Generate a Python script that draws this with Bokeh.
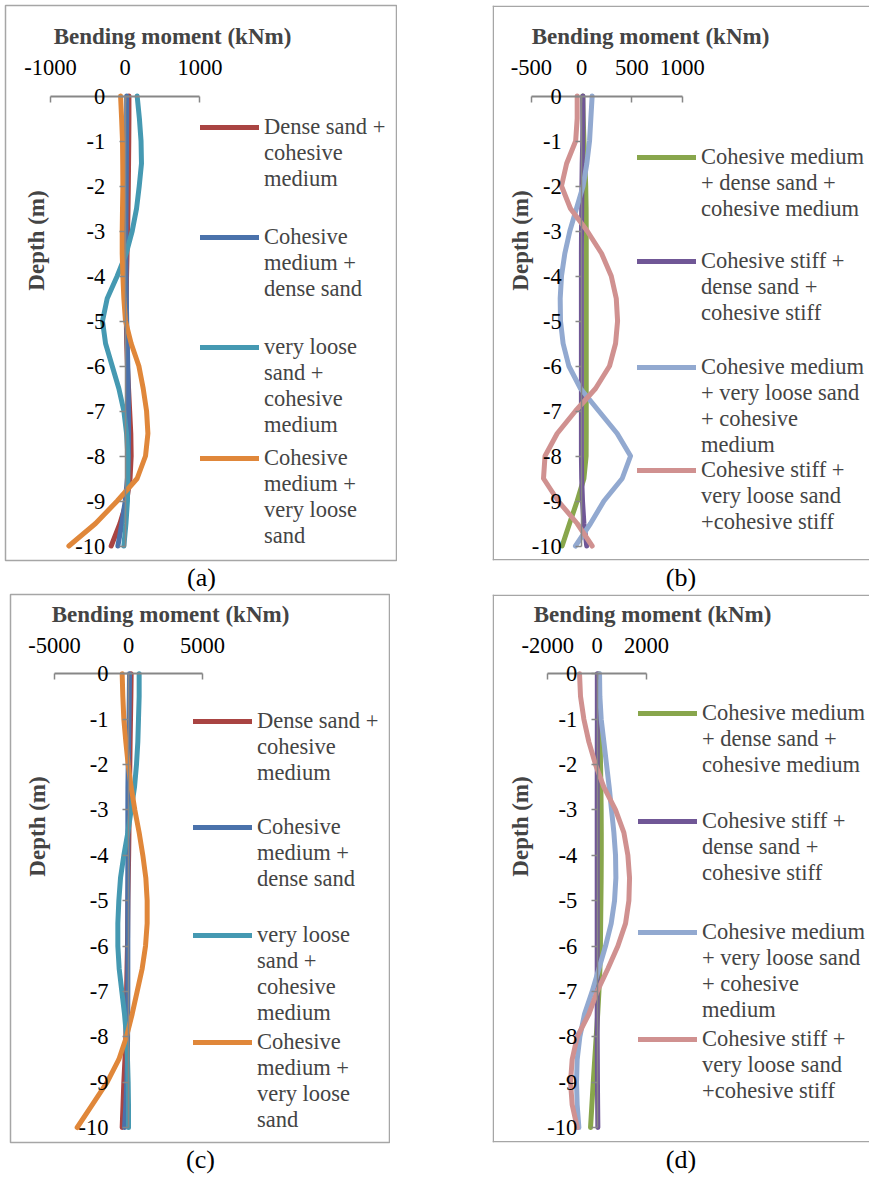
from bokeh.plotting import figure
from bokeh.models import Range1d, LinearAxis, FixedTicker, Label, Legend, LegendItem, Title, Span
from bokeh.layouts import column, row
from bokeh.embed import file_html
from bokeh.resources import INLINE

# ---------------- data ----------------
depth = [0, -0.5, -1, -1.5, -2, -2.5, -3, -3.5, -4, -4.5, -5,
         -5.5, -6, -6.5, -7, -7.5, -8, -8.5, -9, -9.5, -10]

y_ticks = [0, -1, -2, -3, -4, -5, -6, -7, -8, -9, -10]
y_tick_labels = ["0", "-1", "-2", "-3", "-4", "-5", "-6", "-7", "-8", "-9", "-10"]

# panel (a)
a_names = [["Dense sand +", "cohesive", "medium"],
           ["Cohesive", "medium +", "dense sand"],
           ["very loose", "sand +", "cohesive", "medium"],
           ["Cohesive", "medium +", "very loose", "sand"]]
a_dense_coh = [50, 50, 48, 45, 42, 38, 32, 25, 18, 15, 15, 20, 30, 45, 60, 75, 80, 65, 20, -70, -188]
a_coh_dense = [20, 20, 18, 16, 14, 12, 10, 10, 12, 15, 20, 28, 35, 40, 44, 45, 42, 30, 0, -45, -98]
a_loose_coh = [160, 190, 212, 218, 188, 152, 94, 13, -107, -241, -304, -263, -174, -85, -18, 18, 36, 36, 30, 10, -18]
a_coh_loose = [-62, -48, -36, -33, -31, -36, -40, -40, -31, -18, 4, 80, 183, 241, 286, 304, 272, 160, -107, -397, -754]
a_xticks = [-1000, 0, 1000]
a_xtick_labels = ["-1000", "0", "1000"]

# panel (b)
b_names = [["Cohesive medium", "+ dense sand +", "cohesive medium"],
           ["Cohesive stiff +", "dense sand +", "cohesive stiff"],
           ["Cohesive medium", "+ very loose sand", "+ cohesive", "medium"],
           ["Cohesive stiff +", "very loose sand", "+cohesive stiff"]]
b_cm_dense = [10, 15, 22, 32, 40, 44, 45, 45, 45, 45, 45, 45, 45, 45, 45, 45, 44, 22, -45, -121, -195]
b_cs_dense = [12, 12, 10, 5, 2, 0, -2, -3, -3, -3, -3, -3, -3, -3, -3, -3, -3, 0, 8, 22, 50]
b_cm_loose = [104, 91, 78, 51, 14, -52, -118, -168, -201, -214, -211, -185, -128, -12, 170, 353, 486, 403, 221, 88, -62]
b_cs_loose = [-45, -45, -60, -150, -201, -112, 55, 198, 294, 344, 357, 337, 277, 138, -62, -244, -365, -380, -234, -45, 104]
b_xticks = [-500, 0, 500, 1000]
b_xtick_labels = ["-500", "0", "500", "1000"]

# panel (c)
c_names = a_names
c_dense_coh = [180, 160, 135, 110, 90, 70, 50, 30, 10, -15, -40, -55, -70, -100, -130, -155, -180, -240, -315, -370, -428]
c_coh_dense = [68, 55, 35, 10, -20, -40, -45, -45, -45, -45, -45, -45, -45, -45, -45, -50, -60, -80, -120, -180, -270]
c_loose_coh = [720, 720, 675, 630, 540, 405, 180, -45, -315, -540, -653, -720, -720, -630, -450, -270, -135, -68, -23, 0, 0]
c_coh_loose = [-428, -383, -315, -180, -23, 180, 428, 720, 968, 1171, 1261, 1261, 1149, 923, 586, 248, -135, -653, -1441, -2455, -3468]
c_xticks = [-5000, 0, 5000]
c_xtick_labels = ["-5000", "0", "5000"]

# panel (d)
d_names = b_names
d_cm_dense = [68, 80, 100, 120, 135, 150, 160, 165, 165, 160, 150, 140, 130, 110, 70, 20, -40, -100, -160, -215, -270]
d_cs_dense = [5, 5, 5, 3, 2, 0, 0, 0, 0, 0, 0, 0, 0, 0, 0, 0, 0, 5, 10, 18, 27]
d_cm_loose = [95, 108, 162, 270, 378, 486, 581, 676, 743, 757, 703, 568, 338, 68, -203, -514, -703, -811, -838, -811, -743]
d_cs_loose = [-716, -676, -540, -338, -68, 270, 743, 1081, 1243, 1311, 1284, 1149, 838, 432, 0, -338, -810, -1014, -1081, -1014, -810]
d_xticks = [-2000, 0, 2000]
d_xtick_labels = ["-2000", "0", "2000"]

colors_ac = ["#A94442", "#4A72AB", "#4599B2", "#E0873A"]
colors_bd = ["#88A64C", "#705796", "#92A9D0", "#D09190"]

FONT = "Liberation Serif"
FS = "22.5px"
LINE_H = 26.5
AXIS_GRAY = "#878787"
BOX_GRAY = "#A6A6A6"


def make_panel(cfg):
    cx0, cy0, cw, ch = cfg["canvas"]
    fl, ft, fr, fb = cfg["frame"]
    x0px, kx = cfg["x0px"], cfg["kx"]       # pixel of x=0, px per unit
    y0px, ky = cfg["y0px"], cfg["ky"]       # pixel of depth 0, px per m

    def dx(px):
        return (px - x0px) / kx

    def dy(py):
        return (y0px - py) / ky

    p = figure(width=cw, height=ch,
               x_range=Range1d(dx(fl), dx(fr)), y_range=Range1d(dy(fb), dy(ft)),
               output_backend="svg", toolbar_location=None,
               x_axis_location=None, y_axis_location=None,
               min_border_left=fl - cx0, min_border_right=cx0 + cw - fr,
               min_border_top=ft - cy0, min_border_bottom=cy0 + ch - fb,
               background_fill_color="white", border_fill_color="white")
    p.xgrid.visible = False
    p.ygrid.visible = False
    if cfg["open_right"]:
        p.outline_line_color = None
        p.add_layout(Span(location=dy(ft + 0.75), dimension="width",
                          line_color=BOX_GRAY, line_width=1.5))
        p.add_layout(Span(location=dy(fb - 0.75), dimension="width",
                          line_color=BOX_GRAY, line_width=1.5))
        p.add_layout(Span(location=dx(fl + 0.75), dimension="height",
                          line_color=BOX_GRAY, line_width=1.5))
    else:
        p.outline_line_color = BOX_GRAY
        p.outline_line_width = 1.5

    xt = cfg["xticks"]
    xaxis = LinearAxis(fixed_location=0, bounds=(xt[0], xt[-1]),
                       ticker=FixedTicker(ticks=xt),
                       major_label_overrides={t: l for t, l in zip(xt, cfg["xlabels"])},
                       axis_line_color=AXIS_GRAY, axis_line_width=2,
                       major_tick_line_color=AXIS_GRAY, major_tick_line_width=1.5,
                       major_tick_in=6, major_tick_out=0,
                       minor_tick_in=0, minor_tick_out=0,
                       major_label_standoff=21,
                       major_label_text_font=FONT, major_label_text_font_size=FS,
                       major_label_text_color="black")
    p.add_layout(xaxis, "above")

    yaxis = LinearAxis(fixed_location=0, bounds=(-10, 0),
                       ticker=FixedTicker(ticks=y_ticks),
                       major_label_overrides={t: l for t, l in zip(y_ticks, y_tick_labels)},
                       axis_line_color=AXIS_GRAY, axis_line_width=1.5,
                       major_tick_line_color=AXIS_GRAY, major_tick_line_width=1.5,
                       major_tick_in=0, major_tick_out=6,
                       minor_tick_in=0, minor_tick_out=0,
                       major_label_standoff=14,
                       major_label_text_font=FONT, major_label_text_font_size=FS,
                       major_label_text_color="black")
    p.add_layout(yaxis, "left")

    renderers = []
    for vals, col in zip(cfg["series"], cfg["colors"]):
        r = p.line(vals, depth, line_color=col, line_width=5,
                   line_join="round", line_cap="round")
        renderers.append(r)

    # one legend per entry; blank lines above the text put the sample line
    # level with the first line of a wrapped label
    lx = cfg["legend_x"]
    for r, lines, ly in zip(renderers, cfg["names"], cfg["legend_y"]):
        n = len(lines)
        label = "\n" * (n - 1) + "\n".join(lines)
        bottom = ly + LINE_H / 2 + (n - 1) * LINE_H
        lg = Legend(items=[LegendItem(label=label, renderers=[r])],
                    location=(lx - fl, fb - bottom),
                    glyph_width=59, glyph_height=20, label_standoff=5,
                    padding=0, margin=0, spacing=0,
                    label_text_font=FONT, label_text_font_size=FS,
                    label_height=20, label_text_line_height=LINE_H / 22.5,
                    border_line_color=None, background_fill_alpha=0)
        p.add_layout(lg, "center")

    tx, ty = cfg["title_xy"]
    p.add_layout(Label(x=dx(tx), y=dy(ty), text="Bending moment (kNm)",
                       text_font=FONT, text_font_size="23px", text_font_style="bold",
                       text_align="center", text_baseline="middle"))
    vx, vy = cfg["depth_xy"]
    p.add_layout(Label(x=dx(vx), y=dy(vy), text="Depth (m)", angle=1.5708,
                       text_font=FONT, text_font_size="23px", text_font_style="bold",
                       text_align="center", text_baseline="middle"))
    p.add_layout(Title(text=cfg["caption"], align="center", text_font=FONT,
                       text_font_size="26px", text_font_style="normal",
                       text_color="black", standoff=0, offset=0), "below")
    return p


cfg_a = dict(canvas=(0, 0, 397, 593), frame=(5, 5, 397, 560), open_right=False,
             x0px=124.7, kx=0.0747, y0px=95.5, ky=45.0,
             xticks=a_xticks, xlabels=a_xtick_labels,
             series=[a_dense_coh, a_coh_dense, a_loose_coh, a_coh_loose],
             colors=colors_ac, names=a_names,
             legend_x=200, legend_y=[126, 236, 345, 456],
             title_xy=(172, 36), depth_xy=(36, 240), caption="(a)")

cfg_b = dict(canvas=(492, 0, 377, 593), frame=(492, 5, 869, 560), open_right=True,
             x0px=581.2, kx=0.1005, y0px=95.5, ky=45.0,
             xticks=b_xticks, xlabels=b_xtick_labels,
             series=[b_cm_dense, b_cs_dense, b_cm_loose, b_cs_loose],
             colors=colors_bd, names=b_names,
             legend_x=637, legend_y=[156, 260, 365, 469],
             title_xy=(650, 36), depth_xy=(520, 240), caption="(b)")

cfg_c = dict(canvas=(0, 593, 390, 584), frame=(10, 594, 390, 1142), open_right=False,
             x0px=128.0, kx=0.0148, y0px=673.3, ky=45.37,
             xticks=c_xticks, xlabels=c_xtick_labels,
             series=[c_dense_coh, c_coh_dense, c_loose_coh, c_coh_loose],
             colors=colors_ac, names=c_names,
             legend_x=193, legend_y=[720, 826, 933, 1040],
             title_xy=(170, 614), depth_xy=(37, 826), caption="(c)")

cfg_d = dict(canvas=(492, 593, 377, 584), frame=(492, 594, 869, 1142), open_right=True,
             x0px=596.7, kx=0.02468, y0px=673.3, ky=45.37,
             xticks=d_xticks, xlabels=d_xtick_labels,
             series=[d_cm_dense, d_cs_dense, d_cm_loose, d_cs_loose],
             colors=colors_bd, names=d_names,
             legend_x=638, legend_y=[712, 820, 930, 1038],
             title_xy=(652, 614), depth_xy=(520, 826), caption="(d)")

pa = make_panel(cfg_a)
pb = make_panel(cfg_b)
pc = make_panel(cfg_c)
pd = make_panel(cfg_d)

layout = column(row(pa, pb, spacing=492 - 397),
                row(pc, pd, spacing=492 - 390),
                spacing=0)

open("out.html", "w").write(file_html(layout, INLINE))
